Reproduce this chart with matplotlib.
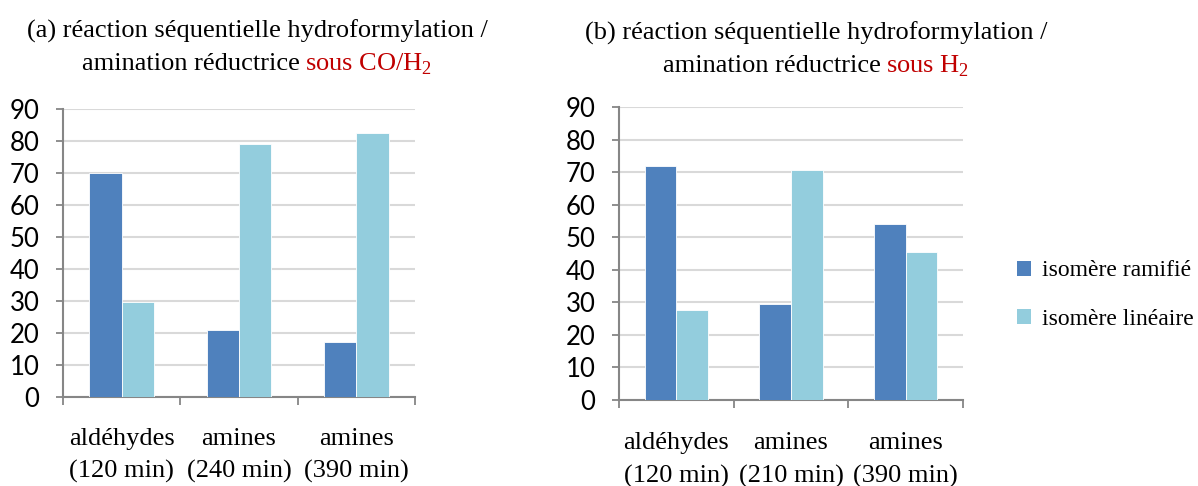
import matplotlib
matplotlib.use("Agg")
import matplotlib.pyplot as plt
import numpy as np
from matplotlib.patches import Patch

# ---------------- data ----------------
categories_a = ["aldéhydes\n(120 min)", "amines\n(240 min)", "amines\n(390 min)"]
ramifie_a = [70.0, 20.8, 17.2]
lineaire_a = [29.8, 79.0, 82.5]

categories_b = ["aldéhydes\n(120 min)", "amines\n(210 min)", "amines\n(390 min)"]
ramifie_b = [71.8, 29.5, 54.0]
lineaire_b = [27.7, 70.5, 45.4]

yticks = [0, 10, 20, 30, 40, 50, 60, 70, 80, 90]
series_labels = ["isomère ramifié", "isomère linéaire"]

title_a = [("(a) réaction séquentielle hydroformylation /", "black")], \
          [("amination réductrice", "black"), ("sous CO/H$_\\mathregular{2}$", "#C00000")]
title_b = [("(b) réaction séquentielle hydroformylation /", "black")], \
          [("amination réductrice", "black"), ("sous H$_\\mathregular{2}$", "#C00000")]

# ---------------- style ----------------
DARK = "#4F81BD"
LIGHT = "#93CDDD"
GRID = "#D9D9D9"
AXC = "#868686"
SERIF = "Liberation Serif"
SANS = "Lato"
plt.rcParams["mathtext.fontset"] = "custom"
plt.rcParams["mathtext.rm"] = SERIF

W, H = 1198, 486
fig = plt.figure(figsize=(W / 100, H / 100), dpi=100)


def make_axes(rect, cats, s1, s2, labelpad):
    ax = fig.add_axes(rect)
    x = np.arange(len(cats))
    w = 0.275
    ax.bar(x - w / 2, s1, width=w, color=DARK, edgecolor="white", linewidth=0.6, zorder=3)
    ax.bar(x + w / 2, s2, width=w, color=LIGHT, edgecolor="white", linewidth=0.6, zorder=3)
    ax.set_xlim(-0.5, len(cats) - 0.5)
    ax.set_ylim(0, 90)
    ax.set_yticks(yticks)
    ax.set_yticklabels([str(v) for v in yticks], fontfamily=SANS, fontsize=18.5)
    ax.set_xticks(x)
    ax.set_xticklabels(cats, fontfamily=SERIF, fontsize=19, linespacing=1.6)
    ax.set_xticks(np.arange(len(cats) + 1) - 0.5, minor=True)
    ax.tick_params(axis="x", which="major", length=0, pad=labelpad)
    ax.tick_params(axis="x", which="minor", length=6, width=1.3, color=AXC, direction="out")
    ax.tick_params(axis="y", which="major", length=5, width=1.3, color=AXC, direction="out", pad=12)
    ax.yaxis.grid(True, color=GRID, linewidth=1.5, zorder=0)
    ax.set_axisbelow(True)
    for s in ["top", "right"]:
        ax.spines[s].set_visible(False)
    for s in ["left", "bottom"]:
        ax.spines[s].set_color(AXC)
        ax.spines[s].set_linewidth(1.5)
    return ax


ax1 = make_axes([63 / W, 1 - 397 / H, (415 - 63) / W, (397 - 109) / H],
                categories_a, ramifie_a, lineaire_a, 22)
ax2 = make_axes([619 / W, 1 - 400 / H, (963 - 619) / W, (400 - 107) / H],
                categories_b, ramifie_b, lineaire_b, 23)

renderer = fig.canvas.get_renderer()


def mixed_line(cx, cy, parts, size=19, gap=6):
    texts = []
    for s, c in parts:
        t = fig.text(0, H - cy, s, color=c, fontfamily=SERIF, fontsize=size,
                     transform=None, ha="left", va="baseline")
        texts.append(t)
    widths = [t.get_window_extent(renderer).width for t in texts]
    total = sum(widths) + gap * (len(texts) - 1)
    xx = cx - total / 2
    for t, wdt in zip(texts, widths):
        t.set_x(xx)
        xx += wdt + gap


mixed_line(257, 38, title_a[0])
mixed_line(257, 70, title_a[1])
mixed_line(816, 40, title_b[0])
mixed_line(816, 72, title_b[1])

handles = [Patch(facecolor=DARK, edgecolor="none"), Patch(facecolor=LIGHT, edgecolor="none")]
fig.legend(handles, series_labels, loc="center left", bbox_to_anchor=(996 / W, 1 - 295 / H),
           frameon=False, prop={"family": SERIF, "size": 17}, handlelength=0.6,
           handleheight=0.6, handletextpad=0.45, labelspacing=1.15)

fig.savefig("out.png", dpi=100)
